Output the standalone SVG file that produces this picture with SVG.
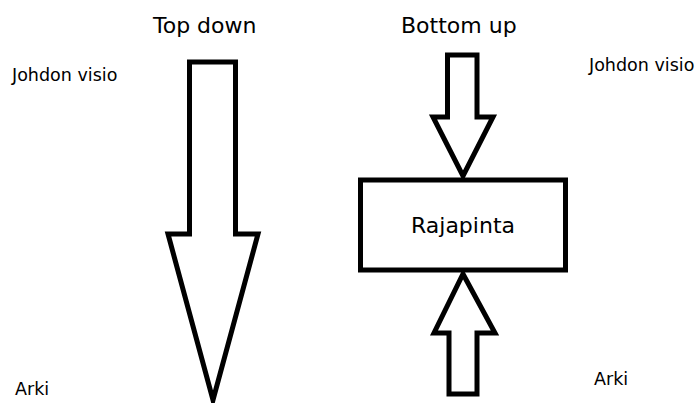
<svg xmlns="http://www.w3.org/2000/svg" width="698" height="403" viewBox="0 0 698 403">
<style>
.shape{fill:#fff;stroke:#000;stroke-width:5;stroke-linejoin:miter}
.t{font-family:"DejaVu Sans","Liberation Sans",sans-serif;fill:#000}
.big{font-size:22px}
.small{font-size:17.5px}
</style>
<rect width="698" height="403" fill="#fff"/>
<g id="labels">
<text class="t big" x="153" y="33">Top down</text>
<text class="t big" x="401" y="33">Bottom up</text>
<text class="t small" x="12" y="81">Johdon visio</text>
<text class="t small" x="589" y="71">Johdon visio</text>
<text class="t small" x="15" y="395">Arki</text>
<text class="t small" x="594" y="385">Arki</text>
</g>
<g id="connectors">
<polygon id="topdown-arrow" class="shape" points="189.5,62 235.5,62 235.5,234 258,234 213,400 168,234 189.5,234"/>
<polygon id="arrow-down" class="shape" points="447.5,55 477,55 477,117 493,117 463,176 433,117 447.5,117"/>
<polygon id="arrow-up" class="shape" points="449,394 477,394 477,333 495,333 463,274 434,333 449,333"/>
</g>
<g id="rajapinta">
<rect class="shape" x="360.5" y="180" width="205" height="90"/>
<text class="t big" x="463" y="233" text-anchor="middle">Rajapinta</text>
</g>
</svg>
